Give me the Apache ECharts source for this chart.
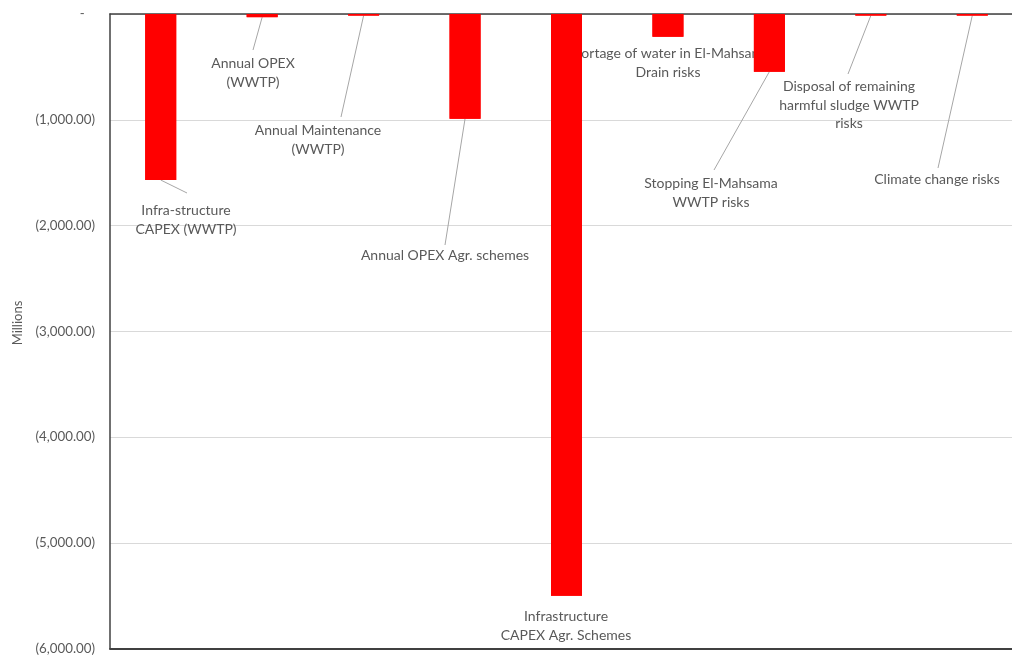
<!DOCTYPE html>
<html>
<head>
<meta charset="utf-8">
<script src="https://cdn.jsdelivr.net/npm/echarts@6/dist/echarts.min.js"></script>
<style>html,body{margin:0;padding:0;background:#fff;overflow:hidden}#c{width:1023px;height:655px}</style>
</head>
<body>
<div id="c"></div>
<script>
const categories = [
  'Infra-structure\nCAPEX (WWTP)',
  'Annual OPEX\n(WWTP)',
  'Annual Maintenance\n(WWTP)',
  'Annual OPEX Agr. schemes',
  'Infrastructure\nCAPEX Agr. Schemes',
  'Shortage of water in El-Mahsama\nDrain risks',
  'Stopping El-Mahsama\nWWTP risks',
  'Disposal of remaining\nharmful sludge WWTP\nrisks',
  'Climate change risks'
];
const values = [-1570, -30, -15, -990, -5500, -215, -545, -15, -15];
const yTicks = [0, -1000, -2000, -3000, -4000, -5000, -6000];
const axisName = 'Millions';

// label centre positions (pixels) and leader-line end points (null = no leader line)
const labelPos = [[186,220],[253,73],[318,140],[445,255],[566,626],[668,63],[711,193],[849,105],[937,179]];
const lineEnd = [[187,193],[253,50],[341,117],[445,245],null,null,[714,170],[848,74],[938,168]];

function fmt(v){
  if (v === 0) return '-   ';
  const s = Math.abs(v).toLocaleString('en-US',{minimumFractionDigits:2,maximumFractionDigits:2});
  return v < 0 ? '(' + s + ')' : s + ' ';
}

const chart = echarts.init(document.getElementById('c'));
chart.setOption({
  animation:false,
  grid:{left:110, top:14, right:0, bottom:2, containLabel:false},
  graphic:[{type:'text', x:18, y:323, rotation:Math.PI/2,
    style:{text:axisName, fill:'#595959', font:'13px Lato', align:'center', verticalAlign:'middle'}}],
  xAxis:[{
    type:'category', data:categories, position:'top',
    axisLine:{show:true, onZero:true, lineStyle:{color:'#404040', width:1.5}},
    axisTick:{show:false}, axisLabel:{show:false}, splitLine:{show:false}
  },{
    type:'category', data:categories, position:'bottom',
    axisLine:{show:true, onZero:false, lineStyle:{color:'#404040', width:2}},
    axisTick:{show:false}, axisLabel:{show:false}, splitLine:{show:false}
  }],
  yAxis:{
    type:'value', min:Math.min(...yTicks), max:Math.max(...yTicks), interval:1000,
    axisLine:{show:true, lineStyle:{color:'#404040', width:1.5}},
    axisTick:{show:false},
    axisLabel:{color:'#595959', fontFamily:'Lato', fontSize:13.3, margin:15, formatter:fmt},
    splitLine:{show:true, lineStyle:{color:'#d9d9d9', width:1}}
  },
  series:[{
    type:'custom', z:1, silent:true,
    data:values.map((v,i)=>[i,v]),
    renderItem:function(params, api){
      const i = params.dataIndex, e = lineEnd[i];
      if (!e) return null;
      const s = api.coord([i, api.value(1)]);
      return {type:'line', shape:{x1:s[0], y1:s[1], x2:e[0], y2:e[1]},
        style:{stroke:'#a6a6a6', lineWidth:1}};
    }
  },{
    type:'bar', data:values,
    barWidth:31, itemStyle:{color:'#ff0000'}, z:2,
    label:{show:true, position:'bottom', formatter:p=>categories[p.dataIndex],
      color:'#595959', fontFamily:'Lato', fontSize:14, lineHeight:18.5, align:'center'},
    labelLayout:function(p){
      const q = labelPos[p.dataIndex];
      return {x:q[0], y:q[1], align:'center', verticalAlign:'middle'};
    }
  },{
    type:'bar', data:values, barWidth:31, barGap:'-100%', z:5,
    itemStyle:{color:'#ff0000'}, label:{show:false}, silent:true
  }]
});
</script>
</body>
</html>
